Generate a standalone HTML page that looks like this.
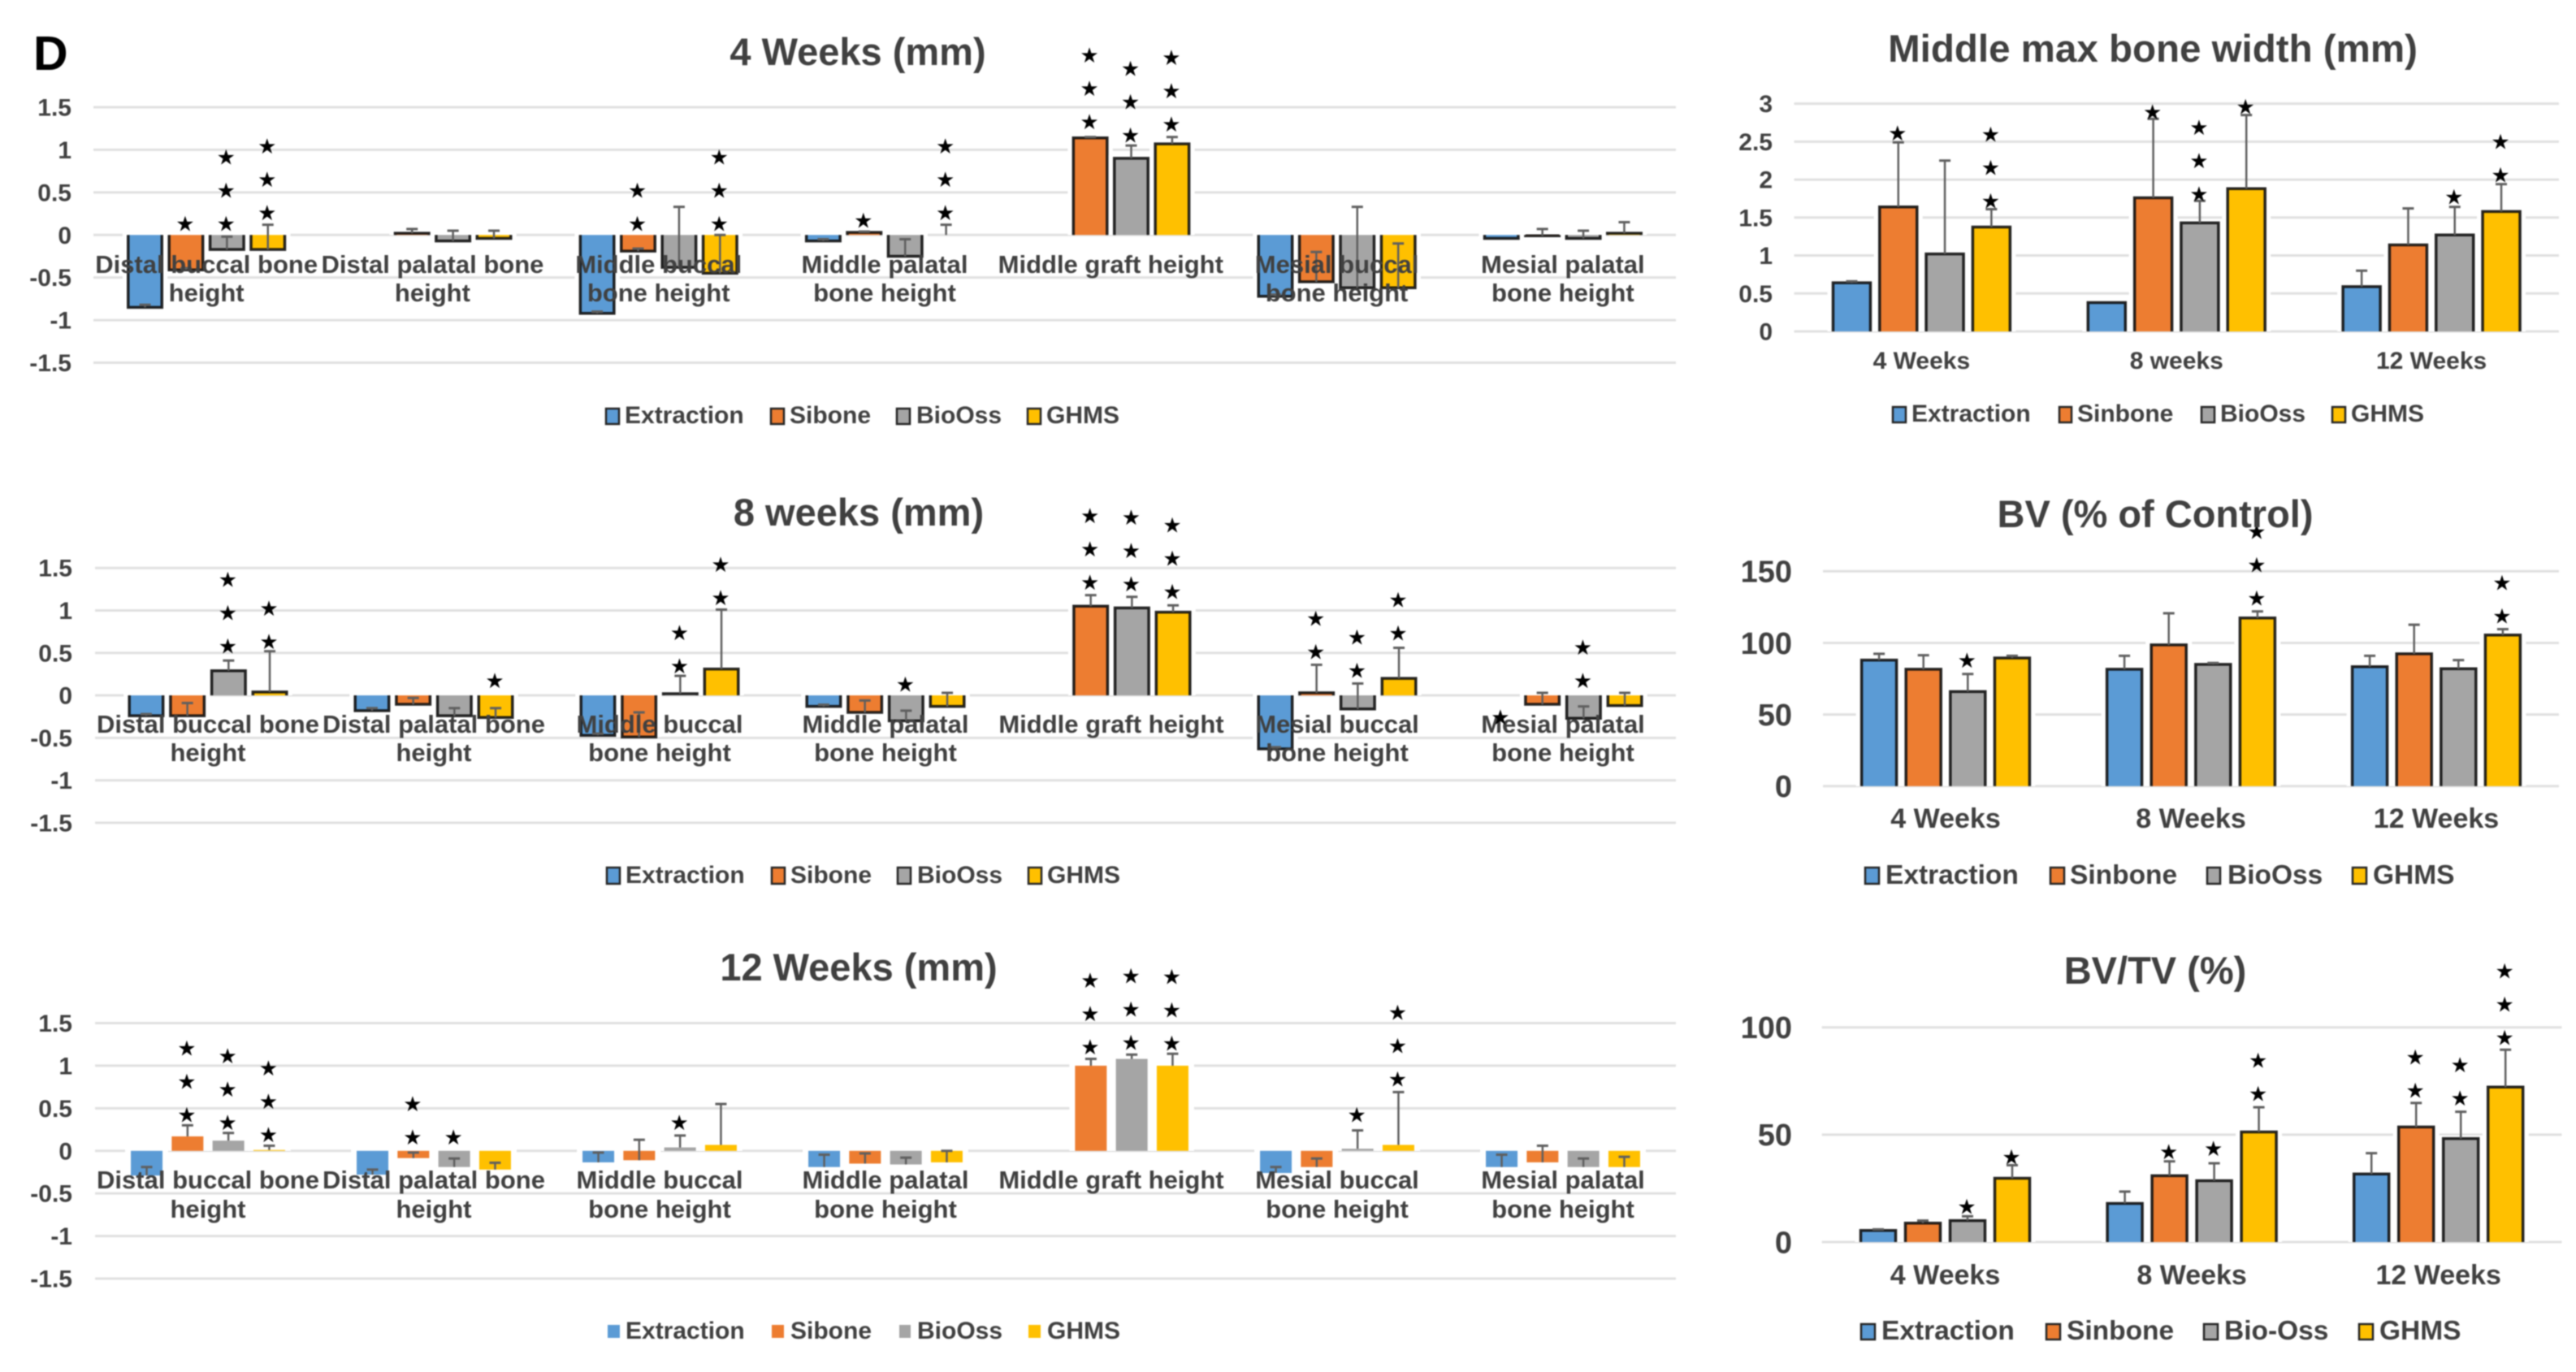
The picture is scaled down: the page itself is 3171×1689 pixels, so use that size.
<!DOCTYPE html>
<html lang="en">
<head>
<meta charset="utf-8">
<title>Bone measurements by treatment group</title>
<style>
html,body{margin:0;padding:0;background:#fff;}
#figure{display:block;width:3171px;height:1689px;filter:blur(0.8px);font-family:"Liberation Sans",Arial,sans-serif;font-weight:bold;}
.title{font-size:47px;fill:#404040;text-anchor:middle;}
.leg{font-size:30px;fill:#404040;}
.leg2{font-size:33.5px;fill:#404040;}
.blue{fill:#5B9BD5;}.orange{fill:#ED7D31;}.gray{fill:#A5A5A5;}.gold{fill:#FFC000;}
.sw{stroke:#262626;stroke-width:2.5;}
</style>
</head>
<body>
<svg id="figure" xmlns="http://www.w3.org/2000/svg" width="3171" height="1689" viewBox="0 0 3171 1689">
  <rect x="0" y="0" width="3171" height="1689" fill="#ffffff"/>
  <g id="charts"></g>

  <text x="41" y="86" font-size="59" fill="#000000">D</text>

  <text class="title" x="1056" y="80">4 Weeks (mm)</text>
  <text class="title" x="1057" y="647">8 weeks (mm)</text>
  <text class="title" x="1057" y="1207">12 Weeks (mm)</text>
  <text class="title" x="2650" y="76" style="font-size:47.5px">Middle max bone width (mm)</text>
  <text class="title" x="2653" y="649">BV (% of Control)</text>
  <text class="title" x="2653" y="1211">BV/TV (%)</text>

  <g>
    <rect class="blue sw" x="746" y="503" width="16" height="19"/>
    <text class="leg" x="769" y="521">Extraction</text>
    <rect class="orange sw" x="949" y="503" width="16" height="19"/>
    <text class="leg" x="972" y="521">Sibone</text>
    <rect class="gray sw" x="1104" y="503" width="16" height="19"/>
    <text class="leg" x="1128" y="521">BioOss</text>
    <rect class="gold sw" x="1265" y="503" width="16" height="19"/>
    <text class="leg" x="1288" y="521">GHMS</text>
  </g>
  <g>
    <rect class="blue sw" x="747" y="1068" width="16" height="20"/>
    <text class="leg" x="770" y="1087">Extraction</text>
    <rect class="orange sw" x="950" y="1068" width="16" height="20"/>
    <text class="leg" x="973" y="1087">Sibone</text>
    <rect class="gray sw" x="1105" y="1068" width="16" height="20"/>
    <text class="leg" x="1129" y="1087">BioOss</text>
    <rect class="gold sw" x="1266" y="1068" width="16" height="20"/>
    <text class="leg" x="1289" y="1087">GHMS</text>
  </g>
  <g>
    <rect class="blue" x="748" y="1631" width="15" height="16"/>
    <text class="leg" x="770" y="1648">Extraction</text>
    <rect class="orange" x="950" y="1631" width="15" height="16"/>
    <text class="leg" x="973" y="1648">Sibone</text>
    <rect class="gray" x="1107" y="1631" width="14" height="16"/>
    <text class="leg" x="1129" y="1648">BioOss</text>
    <rect class="gold" x="1266" y="1631" width="15" height="16"/>
    <text class="leg" x="1289" y="1648">GHMS</text>
  </g>
  <g>
    <rect class="blue sw" x="2330" y="501" width="16" height="19"/>
    <text class="leg" x="2353" y="519">Extraction</text>
    <rect class="orange sw" x="2535" y="501" width="15" height="19"/>
    <text class="leg" x="2557" y="519">Sinbone</text>
    <rect class="gray sw" x="2710" y="501" width="16" height="19"/>
    <text class="leg" x="2733" y="519">BioOss</text>
    <rect class="gold sw" x="2871" y="501" width="16" height="19"/>
    <text class="leg" x="2894" y="519">GHMS</text>
  </g>
  <g>
    <rect class="blue sw" x="2296" y="1068" width="17" height="20"/>
    <text class="leg2" x="2321" y="1088">Extraction</text>
    <rect class="orange sw" x="2524" y="1068" width="17" height="20"/>
    <text class="leg2" x="2548" y="1088">Sinbone</text>
    <rect class="gray sw" x="2717" y="1068" width="16" height="20"/>
    <text class="leg2" x="2742" y="1088">BioOss</text>
    <rect class="gold sw" x="2896" y="1068" width="17" height="20"/>
    <text class="leg2" x="2921" y="1088">GHMS</text>
  </g>
  <g>
    <rect class="blue sw" x="2291" y="1630" width="17" height="19"/>
    <text class="leg2" x="2316" y="1649">Extraction</text>
    <rect class="orange sw" x="2519" y="1630" width="17" height="19"/>
    <text class="leg2" x="2544" y="1649">Sinbone</text>
    <rect class="gray sw" x="2713" y="1630" width="17" height="19"/>
    <text class="leg2" x="2738" y="1649">Bio-Oss</text>
    <rect class="gold sw" x="2904" y="1630" width="17" height="19"/>
    <text class="leg2" x="2929" y="1649">GHMS</text>
  </g>
</svg>

<script>
/* ---------- shared categories and tick labels ---------- */
const mmCategories = [
  ['Distal buccal bone', 'height'],
  ['Distal palatal bone', 'height'],
  ['Middle buccal', 'bone height'],
  ['Middle palatal', 'bone height'],
  ['Middle graft height'],
  ['Mesial buccal', 'bone height'],
  ['Mesial palatal', 'bone height']
];
const mmTicks = ['1.5', '1', '0.5', '0', '-0.5', '-1', '-1.5'];
const widthCategories = ['4 Weeks', '8 weeks', '12 Weeks'];
const weekCategories = ['4 Weeks', '8 Weeks', '12 Weeks'];
const widthTicks = ['3', '2.5', '2', '1.5', '1', '0.5', '0'];
const bvTicks = ['150', '100', '50', '0'];
const bvtvTicks = ['100', '50', '0'];

/* ---------- 4 weeks (mm): bar value and top of error whisker ---------- */
const w4Extraction = [-0.85, 0, -0.92, -0.07, 0, -0.72, -0.04];
const w4ExtractionUpper = [-0.82, 0, -0.90, -0.05, 0, -0.70, -0.04];
const w4Sibone = [-0.41, 0.02, -0.19, 0.03, 1.14, -0.55, -0.01];
const w4SiboneUpper = [-0.39, 0.07, -0.16, 0.04, 1.15, -0.20, 0.07];
const w4BioOss = [-0.17, -0.07, -0.38, -0.25, 0.90, -0.62, -0.04];
const w4BioOssUpper = [-0.02, 0.05, 0.33, -0.05, 1.05, 0.33, 0.05];
const w4Ghms = [-0.17, -0.04, -0.45, 0, 1.07, -0.62, 0.02];
const w4GhmsUpper = [0.12, 0.05, 0, 0.12, 1.15, -0.10, 0.15];
/* [category, series, value of lowest star, number of stars] */
const w4Stars = [[0,1,0.14,1],[0,2,0.14,3],[0,3,0.27,3],[2,1,0.14,2],[2,3,0.14,3],[3,1,0.18,1],[3,3,0.27,3],[4,1,1.34,3],[4,2,1.18,3],[4,3,1.31,3]];

/* ---------- 8 weeks (mm) ---------- */
const w8Extraction = [-0.24, -0.18, -0.47, -0.13, 0, -0.63, 0];
const w8ExtractionUpper = [-0.22, -0.15, -0.45, -0.11, 0, -0.61, 0];
const w8Sibone = [-0.24, -0.105, -0.49, -0.20, 1.05, 0.03, -0.105];
const w8SiboneUpper = [-0.09, -0.03, -0.20, -0.06, 1.18, 0.36, 0.03];
const w8BioOss = [0.29, -0.24, 0.02, -0.30, 1.03, -0.16, -0.27];
const w8BioOssUpper = [0.41, -0.15, 0.23, -0.18, 1.16, 0.14, -0.13];
const w8Ghms = [0.04, -0.26, 0.31, -0.13, 0.98, 0.20, -0.12];
const w8GhmsUpper = [0.52, -0.15, 1.01, 0.03, 1.06, 0.56, 0.03];
const w8Stars = [[0,2,0.59,3],[0,3,0.64,2],[1,3,0.18,1],[2,2,0.355,2],[2,3,1.16,2],[3,2,0.14,1],[4,1,1.34,3],[4,2,1.32,3],[4,3,1.23,3],[5,1,0.52,2],[5,2,0.30,2],[5,3,0.74,2],[6,0,-0.25,1],[6,2,0.18,2]];

/* ---------- 12 weeks (mm) ---------- */
const w12Extraction = [-0.29, -0.28, -0.135, -0.19, 0, -0.26, -0.19];
const w12ExtractionUpper = [-0.19, -0.22, -0.02, -0.045, 0, -0.19, -0.045];
const w12Sibone = [0.17, -0.085, -0.11, -0.15, 1.0, -0.19, -0.135];
const w12SiboneUpper = [0.30, -0.02, 0.13, -0.03, 1.08, -0.09, 0.06];
const w12BioOss = [0.12, -0.19, 0.04, -0.16, 1.08, 0.025, -0.19];
const w12BioOssUpper = [0.21, -0.09, 0.18, -0.08, 1.13, 0.24, -0.09];
const w12Ghms = [0.01, -0.22, 0.07, -0.135, 1.0, 0.07, -0.19];
const w12GhmsUpper = [0.06, -0.14, 0.55, 0, 1.14, 0.69, -0.07];
const w12Stars = [[0,1,0.43,3],[0,2,0.34,3],[0,3,0.20,3],[1,1,0.17,2],[1,2,0.17,1],[2,2,0.34,1],[4,1,1.23,3],[4,2,1.28,3],[4,3,1.27,3],[5,2,0.43,1],[5,3,0.85,3]];

/* ---------- middle max bone width (mm) ---------- */
const widthExtraction = [0.64, 0.38, 0.59];
const widthExtractionUpper = [0.66, 0.38, 0.80];
const widthSinbone = [1.64, 1.76, 1.14];
const widthSinboneUpper = [2.49, 2.80, 1.62];
const widthBioOss = [1.02, 1.43, 1.27];
const widthBioOssUpper = [2.25, 1.72, 1.64];
const widthGhms = [1.375, 1.88, 1.58];
const widthGhmsUpper = [1.61, 2.85, 1.94];
const widthStars = [[0,1,2.62,1],[0,3,1.73,3],[1,1,2.90,1],[1,2,1.82,3],[1,3,2.97,1],[2,2,1.78,1],[2,3,2.07,2]];

/* ---------- BV (% of control) ---------- */
const bvExtraction = [88, 81.6, 83.4];
const bvExtractionUpper = [92.4, 91, 91];
const bvSinbone = [81.6, 98.6, 92.4];
const bvSinboneUpper = [91.4, 120.7, 112.7];
const bvBioOss = [66, 85, 82];
const bvBioOssUpper = [78.3, 86, 88];
const bvGhms = [89.5, 117.4, 105.5];
const bvGhmsUpper = [91, 122, 109.6];
const bvStars = [[0,2,88.3,1],[1,3,131.8,3],[2,3,119.3,2]];

/* ---------- BV/TV (%) ---------- */
const bvtvExtraction = [5.4, 18, 31.7];
const bvtvExtractionUpper = [5.9, 23.5, 41.4];
const bvtvSinbone = [8.8, 30.9, 53.6];
const bvtvSinboneUpper = [10, 37.6, 64.8];
const bvtvBioOss = [10, 28.6, 48.2];
const bvtvBioOssUpper = [12, 36.7, 60.7];
const bvtvGhms = [29.7, 51.3, 72.2];
const bvtvGhmsUpper = [35.8, 62.8, 89.6];
const bvtvStars = [[0,2,16.9,1],[0,3,40,1],[1,1,42.4,1],[1,2,44,1],[1,3,69.5,2],[2,1,71,2],[2,2,67.3,2],[2,3,95.5,3]];

const seriesColors = ['#5B9BD5', '#ED7D31', '#A5A5A5', '#FFC000'];
const NS = 'http://www.w3.org/2000/svg';

const charts = [
  { left:115, right:2063, top:132, bottom:446.5, max:1.5, min:-1.5, pitch:50.4, barW:41.5, outline:true,
    ticks:mmTicks, tickX:88, tickFont:30, cats:mmCategories, catFont:31, catBase:336, catGap:35,
    series:[w4Extraction,w4Sibone,w4BioOss,w4Ghms], uppers:[w4ExtractionUpper,w4SiboneUpper,w4BioOssUpper,w4GhmsUpper], stars:w4Stars },
  { left:117, right:2063, top:699.2, bottom:1012.9, max:1.5, min:-1.5, pitch:50.7, barW:41.5, outline:true,
    ticks:mmTicks, tickX:89, tickFont:30, cats:mmCategories, catFont:31, catBase:902, catGap:35,
    series:[w8Extraction,w8Sibone,w8BioOss,w8Ghms], uppers:[w8ExtractionUpper,w8SiboneUpper,w8BioOssUpper,w8GhmsUpper], stars:w8Stars },
  { left:117, right:2063, top:1259.5, bottom:1574, max:1.5, min:-1.5, pitch:50.3, barW:39, outline:false,
    ticks:mmTicks, tickX:89, tickFont:30, cats:mmCategories, catFont:31, catBase:1463, catGap:36,
    series:[w12Extraction,w12Sibone,w12BioOss,w12Ghms], uppers:[w12ExtractionUpper,w12SiboneUpper,w12BioOssUpper,w12GhmsUpper], stars:w12Stars },
  { left:2208.5, right:3150, top:127.6, bottom:408, max:3, min:0, pitch:57.3, barW:46, outline:true,
    ticks:widthTicks, tickX:2182, tickFont:30, cats:widthCategories, catFont:30, catBase:454, catGap:0,
    series:[widthExtraction,widthSinbone,widthBioOss,widthGhms], uppers:[widthExtractionUpper,widthSinboneUpper,widthBioOssUpper,widthGhmsUpper], stars:widthStars },
  { left:2244, right:3150, top:703.3, bottom:967.8, max:150, min:0, pitch:54.6, barW:43, outline:true,
    ticks:bvTicks, tickX:2206, tickFont:38, cats:weekCategories, catFont:34, catBase:1019, catGap:0,
    series:[bvExtraction,bvSinbone,bvBioOss,bvGhms], uppers:[bvExtractionUpper,bvSinboneUpper,bvBioOssUpper,bvGhmsUpper], stars:bvStars },
  { left:2242.7, right:3153.5, top:1264.8, bottom:1529, max:100, min:0, pitch:55, barW:43, outline:true,
    ticks:bvtvTicks, tickX:2206, tickFont:38, cats:weekCategories, catFont:34, catBase:1581, catGap:0,
    series:[bvtvExtraction,bvtvSinbone,bvtvBioOss,bvtvGhms], uppers:[bvtvExtractionUpper,bvtvSinboneUpper,bvtvBioOssUpper,bvtvGhmsUpper], stars:bvtvStars }
];

const STAR_GAP = 41;

function make(tag, parent) {
  const el = document.createElementNS(NS, tag);
  parent.appendChild(el);
  return el;
}

function drawChart(c, root) {
  const g = make('g', root);
  
  

  const yOf = function (v) { return c.top + (c.max - v) / (c.max - c.min) * (c.bottom - c.top); };
  const band = (c.right - c.left) / c.cats.length;
  const xCenter = function (cat, ser) { return c.left + band * (cat + 0.5) + (ser - 1.5) * c.pitch; };

  /* gridlines and tick labels */
  c.ticks.forEach(function (t) {
    const y = yOf(parseFloat(t));
    const line = make('line', g);
    
    
    line.setAttribute('x1', c.left);
    line.setAttribute('x2', c.right);
    line.setAttribute('y1', y);
    line.setAttribute('y2', y);
    line.setAttribute('stroke', '#e0e0e0');
    line.setAttribute('stroke-width', '3');
    const label = make('text', g);
    
    
    label.setAttribute('x', c.tickX);
    label.setAttribute('y', y + c.tickFont * 0.35);
    label.setAttribute('text-anchor', 'end');
    label.setAttribute('font-size', c.tickFont);
    label.setAttribute('fill', '#404040');
    label.textContent = t;
  });

  /* bars */
  c.series.forEach(function (values, s) {
    values.forEach(function (v, cat) {
      if (v === 0) return;
      const cx = xCenter(cat, s);
      const x0 = cx - c.barW / 2;
      const yV = yOf(v);
      const yZero = yOf(0);
      const yTop = Math.min(yV, yZero);
      const h = Math.abs(yV - yZero);

      const halo = make('rect', g);
      
      
      halo.setAttribute('x', x0 - 7);
      halo.setAttribute('y', yTop - 4);
      halo.setAttribute('width', c.barW + 14);
      halo.setAttribute('height', h + 4);
      halo.setAttribute('fill', '#ffffff');

      const bar = make('rect', g);
      
      
      bar.setAttribute('x', x0);
      bar.setAttribute('y', yTop);
      bar.setAttribute('width', c.barW);
      bar.setAttribute('height', h);
      bar.setAttribute('fill', seriesColors[s]);

      if (c.outline) {
        const edge = make('path', g);
        
        
        edge.setAttribute('d', 'M' + x0 + ' ' + yZero + 'L' + x0 + ' ' + yV + 'L' + (x0 + c.barW) + ' ' + yV + 'L' + (x0 + c.barW) + ' ' + yZero);
        edge.setAttribute('fill', 'none');
        edge.setAttribute('stroke', '#101010');
        edge.setAttribute('stroke-opacity', '0.9');
        edge.setAttribute('stroke-width', '3.5');
      }
    });
  });

  /* error whiskers */
  c.uppers.forEach(function (uppers, s) {
    uppers.forEach(function (u, cat) {
      const v = c.series[s][cat];
      if (u === v) return;
      const cx = xCenter(cat, s);
      const stem = make('line', g);
      
      
      stem.setAttribute('x1', cx);
      stem.setAttribute('x2', cx);
      stem.setAttribute('y1', yOf(v));
      stem.setAttribute('y2', yOf(u));
      stem.setAttribute('stroke', '#5f5f5f');
      stem.setAttribute('stroke-width', '2.5');
      const cap = make('line', g);
      
      
      cap.setAttribute('x1', cx - 7);
      cap.setAttribute('x2', cx + 7);
      cap.setAttribute('y1', yOf(u));
      cap.setAttribute('y2', yOf(u));
      cap.setAttribute('stroke', '#5f5f5f');
      cap.setAttribute('stroke-width', '3');
    });
  });

  /* category labels */
  c.cats.forEach(function (cat, i) {
    const lines = Array.isArray(cat) ? cat : [cat];
    lines.forEach(function (lineText, j) {
      const label = make('text', g);
      
      
      label.setAttribute('x', c.left + band * (i + 0.5));
      label.setAttribute('y', c.catBase + j * c.catGap);
      label.setAttribute('text-anchor', 'middle');
      label.setAttribute('font-size', c.catFont);
      label.setAttribute('fill', '#404040');
      label.textContent = lineText;
    });
  });

  /* significance stars */
  c.stars.forEach(function (st) {
    for (let k = 0; k < st[3]; k++) {
      const star = make('text', g);
      
      
      star.setAttribute('x', xCenter(st[0], st[1]) - 1);
      star.setAttribute('y', yOf(st[2]) - k * STAR_GAP + 10);
      star.setAttribute('text-anchor', 'middle');
      star.setAttribute('font-size', '26');
      star.setAttribute('font-family', '"DejaVu Sans", sans-serif');
      star.setAttribute('fill', '#000000');
      star.textContent = '\u2605';
    }
  });
}

const chartsRoot = document.getElementById('charts');
charts.forEach(function (c) { drawChart(c, chartsRoot); });
</script>
</body>
</html>
